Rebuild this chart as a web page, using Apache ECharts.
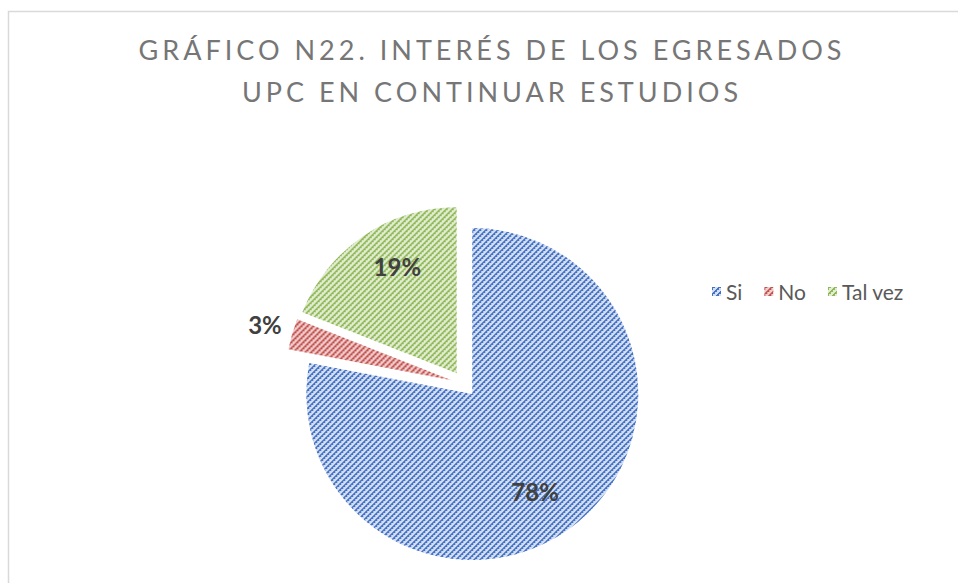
<!DOCTYPE html>
<html>
<head>
<meta charset="utf-8">
<script src="https://cdn.jsdelivr.net/npm/echarts@6/dist/echarts.min.js"></script>
<style>
  html, body { margin: 0; padding: 0; background: #fff; }
  #main { width: 958px; height: 583px; }
</style>
</head>
<body>
<div id="main"></div>
<script>
var categories = ['Si', 'No', 'Tal vez'];
var values = [78, 3, 19];
var darkColors = ['#4472c4', '#c0504d', '#8db654'];
var lightColors = ['#d3def2', '#f0cccb', '#e2edd2'];
var titleLines = ['GRÁFICO N22. INTERÉS DE LOS EGRESADOS', 'UPC EN CONTINUAR ESTUDIOS'];
// label nudges, like Excel's best fit
var labelOffsets = [[8, 31], [-104, -32], [-11, -36]];

// upward diagonal hatch, like the Excel pattern fill
function hatch(dark, light) {
    var c = document.createElement('canvas');
    c.width = 6; c.height = 6;
    var ctx = c.getContext('2d');
    ctx.fillStyle = light;
    ctx.fillRect(0, 0, 6, 6);
    ctx.fillStyle = dark;
    for (var x = 0; x < 6; x++) {
        for (var y = 0; y < 6; y++) {
            if ((x + y) % 6 < 2) ctx.fillRect(x, y, 1, 1);
            if ((x + y) % 6 == 2 && x % 2 == 0) ctx.fillRect(x, y, 1, 1);
        }
    }
    return { image: c, repeat: 'repeat' };
}

var dom = document.getElementById('main');
var myChart = echarts.init(dom, null, { renderer: 'svg' });

var pieData = categories.map(function (name, i) {
    return {
        name: name,
        value: values[i],
        selected: true,
        itemStyle: { color: hatch(darkColors[i], lightColors[i]) }
    };
});

var option = {
    animation: false,
    title: {
        text: titleLines.join('\n'),
        left: 487,
        top: 23,
        textAlign: 'center',
        textStyle: {
            fontFamily: 'Lato',
            fontWeight: 'normal',
            fontSize: 27,
            lineHeight: 42,
            color: '#767676'
        }
    },
    legend: {
        left: 707,
        top: 276,
        icon: 'rect',
        itemWidth: 9,
        itemHeight: 9,
        itemGap: 22,
        selectedMode: false,
        textStyle: { fontFamily: 'Lato', fontSize: 21, color: '#595959' },
        data: categories
    },
    graphic: [{
        type: 'rect',
        shape: { x: 8.5, y: 11.5, width: 1000, height: 1000 },
        style: { fill: 'none', stroke: '#d9d9d9', lineWidth: 1.5 },
        silent: true
    }],
    series: [{
        name: 'Interés',
        type: 'pie',
        center: [464, 384],
        radius: 166,
        startAngle: 90,
        clockwise: true,
        selectedMode: 'multiple',
        selectedOffset: 13,
        emphasis: { disabled: true },
        label: {
            show: true,
            position: 'inside',
            formatter: '{d}%',
            fontFamily: 'Lato',
            fontWeight: 'bold',
            fontSize: 24,
            color: '#404040'
        },
        labelLine: { show: false },
        labelLayout: function (params) {
            var o = labelOffsets[params.dataIndex];
            return { dx: o[0], dy: o[1] };
        },
        data: pieData
    }]
};

myChart.setOption(option);

function spaceTitle() {
    var texts = dom.querySelectorAll('svg text');
    texts.forEach(function (t) {
        if (titleLines.indexOf(t.textContent) >= 0) {
            t.style.letterSpacing = '4px';
        }
    });
}
spaceTitle();
myChart.on('finished', spaceTitle);
</script>
</body>
</html>
